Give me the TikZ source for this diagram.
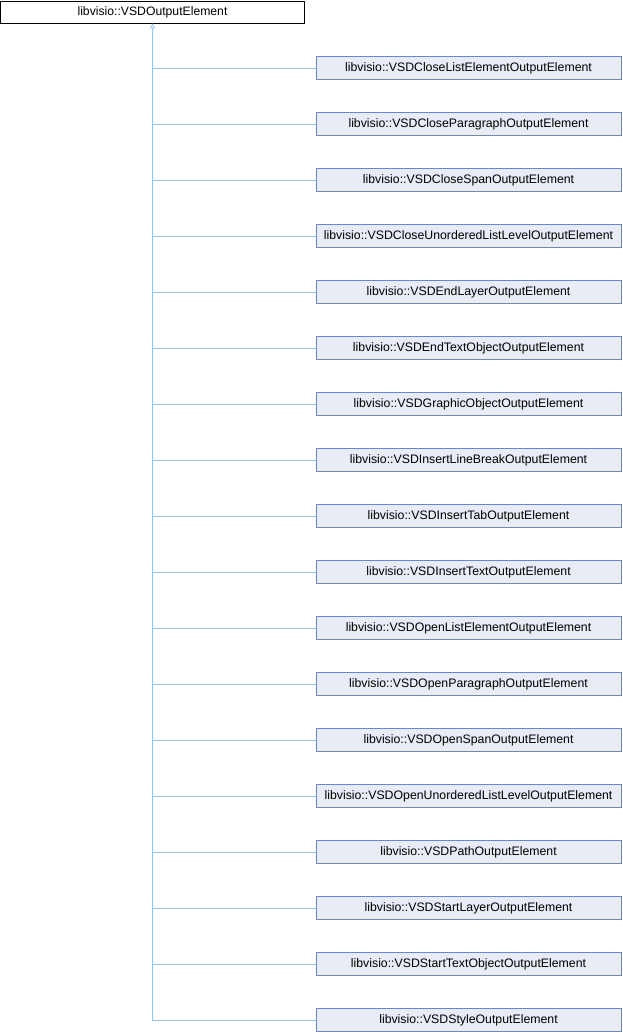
\documentclass[tikz,border=0pt]{standalone}
\usepackage{fontspec}
\setmainfont{Liberation Sans}
\usetikzlibrary{arrows.meta}
\definecolor{boxfill}{RGB}{232,236,245}
\definecolor{boxline}{RGB}{110,135,195}
\definecolor{edgeblue}{RGB}{150,196,228}
\newcommand{\base}{\node[shape = rectangle, draw = black, fill = white, minimum width = 304pt, minimum height = 22pt, inner sep = 0pt, font = \fontsize{12.2pt}{14pt}\selectfont]}
\newcommand{\klass}{\node[shape = rectangle, draw = boxline, fill = boxfill, minimum width = 305pt, minimum height = 23pt, inner sep = 0pt, font = \fontsize{12.3pt}{14pt}\selectfont]}

\begin{document}
\begin{tikzpicture}[x = 1pt, y = -1pt, line width = 0.8pt]
	\useasboundingbox (0,0) rectangle (622,1032);
	\base (top) at (152.5,12) {libvisio::VSDOutputElement};
	\klass (c1) at (468.5,68) {libvisio::VSDCloseListElementOutputElement};
	\klass (c2) at (468.5,124) {libvisio::VSDCloseParagraphOutputElement};
	\klass (c3) at (468.5,180) {libvisio::VSDCloseSpanOutputElement};
	\klass (c4) at (468.5,236) {libvisio::VSDCloseUnorderedListLevelOutputElement};
	\klass (c5) at (468.5,292) {libvisio::VSDEndLayerOutputElement};
	\klass (c6) at (468.5,348) {libvisio::VSDEndTextObjectOutputElement};
	\klass (c7) at (468.5,404) {libvisio::VSDGraphicObjectOutputElement};
	\klass (c8) at (468.5,460) {libvisio::VSDInsertLineBreakOutputElement};
	\klass (c9) at (468.5,516) {libvisio::VSDInsertTabOutputElement};
	\klass (c10) at (468.5,572) {libvisio::VSDInsertTextOutputElement};
	\klass (c11) at (468.5,628) {libvisio::VSDOpenListElementOutputElement};
	\klass (c12) at (468.5,684) {libvisio::VSDOpenParagraphOutputElement};
	\klass (c13) at (468.5,740) {libvisio::VSDOpenSpanOutputElement};
	\klass (c14) at (468.5,796) {libvisio::VSDOpenUnorderedListLevelOutputElement};
	\klass (c15) at (468.5,852) {libvisio::VSDPathOutputElement};
	\klass (c16) at (468.5,908) {libvisio::VSDStartLayerOutputElement};
	\klass (c17) at (468.5,964) {libvisio::VSDStartTextObjectOutputElement};
	\klass (c18) at (468.5,1020) {libvisio::VSDStyleOutputElement};
	\draw[draw = edgeblue, {Triangle[open, length = 5pt, width = 5pt]}-] (top.south) |- (c18.west);
	\path[draw = edgeblue] (top.south |- c1) edge (c1.west);
	\path[draw = edgeblue] (top.south |- c2) edge (c2.west);
	\path[draw = edgeblue] (top.south |- c3) edge (c3.west);
	\path[draw = edgeblue] (top.south |- c4) edge (c4.west);
	\path[draw = edgeblue] (top.south |- c5) edge (c5.west);
	\path[draw = edgeblue] (top.south |- c6) edge (c6.west);
	\path[draw = edgeblue] (top.south |- c7) edge (c7.west);
	\path[draw = edgeblue] (top.south |- c8) edge (c8.west);
	\path[draw = edgeblue] (top.south |- c9) edge (c9.west);
	\path[draw = edgeblue] (top.south |- c10) edge (c10.west);
	\path[draw = edgeblue] (top.south |- c11) edge (c11.west);
	\path[draw = edgeblue] (top.south |- c12) edge (c12.west);
	\path[draw = edgeblue] (top.south |- c13) edge (c13.west);
	\path[draw = edgeblue] (top.south |- c14) edge (c14.west);
	\path[draw = edgeblue] (top.south |- c15) edge (c15.west);
	\path[draw = edgeblue] (top.south |- c16) edge (c16.west);
	\path[draw = edgeblue] (top.south |- c17) edge (c17.west);
\end{tikzpicture}
\end{document}
